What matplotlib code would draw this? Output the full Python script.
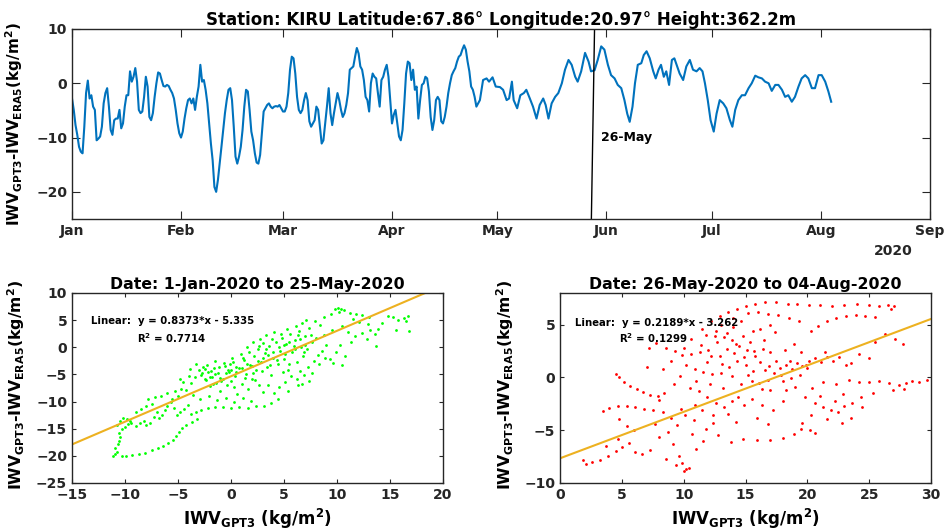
import numpy as np
import matplotlib
matplotlib.use('Agg')
import matplotlib.pyplot as plt

plt.rcParams['font.family'] = 'DejaVu Sans'
plt.rcParams['font.weight'] = 'bold'
plt.rcParams['axes.labelweight'] = 'bold'
plt.rcParams['axes.titleweight'] = 'bold'
plt.rcParams['mathtext.default'] = 'bf'

GRAY = '#262626'

# ---- time series: IWV_GPT3 - IWV_ERA5 (days since 1 Jan 2020) ----
day_a = np.arange(0, 115.5, 0.5)
diff_a = [-2.8, -4.9, -7.7, -9.5, -11.7, -12.6, -12.9, -8.0, -1.8, 0.5,
          -2.8, -2.2, -4.3, -4.9, -10.5, -10.2, -9.8, -8.0, -3.7, -1.8,
          -0.9, -4.3, -8.6, -9.5, -6.8, -6.5, -6.5, -4.9, -8.3, -7.4,
          -4.3, -2.2, -2.2, 2.2, 0.3, 1.2, 2.8, 0.3, -4.9, -5.5,
          -5.2, -2.5, 1.2, -0.6, -6.2, -6.8, -5.5, -2.5, 0.0, 2.0,
          1.8, 0.6, -0.5, -0.6, -0.3, -0.5, -1.2, -1.8, -2.8, -4.9,
          -7.4, -9.2, -10.0, -8.9, -6.5, -4.6, -3.1, -2.8, -3.7, -2.8,
          -4.9, -2.5, -0.6, 3.4, 0.3, 0.6, -1.2, -3.7, -7.4, -11.1,
          -14.2, -19.1, -20.0, -17.8, -14.8, -11.7, -8.6, -5.5, -3.1, -1.2,
          -0.9, -3.1, -8.0, -13.5, -14.8, -13.5, -11.7, -8.6, -4.3, -1.2,
          -1.5, -4.9, -8.9, -10.5, -12.9, -14.6, -14.8, -13.2, -9.2, -5.2,
          -4.6, -4.0, -3.7, -4.3, -4.6, -4.3, -4.2, -4.3, -4.0, -4.6,
          -5.2, -5.2, -4.3, -1.8, 2.5, 4.9, 4.6, 1.8, -2.5, -4.9,
          -5.5, -4.9, -3.1, -1.8, -3.1, -7.0, -8.0, -7.4, -6.8, -4.3,
          -4.9, -8.0, -11.1, -10.5, -7.4, -4.3, -0.9, -5.5, -7.7, -5.5,
          -3.7, -1.8, -3.1, -4.9, -6.2, -5.5, -4.0, -1.8, 2.5, 2.8,
          3.1, 4.9, 6.5, 5.5, 3.1, 2.5, 0.6, -2.5, -3.1, -5.2,
          0.0, 1.8, 1.2, 0.9, -1.8, -4.3, 0.6, 1.2, 2.5, 3.4,
          1.2, -3.1, -7.4, -5.8, -4.9, -7.4, -9.8, -10.5, -8.6, -3.7,
          1.8, 4.0, 3.7, 0.6, 2.5, -1.2, -0.6, -6.5, -3.1, -0.3,
          0.0, 1.2, 0.9, -1.5, -6.2, -8.6, -6.8, -3.1, -2.5, -3.1,
          -7.0, -7.4, -6.2, -4.3, -1.8, 0.0, 1.5, 2.2, 2.8, 4.0,
          4.9, 5.2, 6.2, 7.0, 6.2, 4.0, 2.2, -0.6, -1.2, -2.5,
          -4.3]
day_b = [116, 116.9, 117.9, 118.6, 119.6, 120.5, 121.7, 122.6, 123.6, 124.3,
         125.1, 125.6, 126.6, 127.5, 128.5, 129.2, 130.2, 131.1, 132.1, 133,
         134, 134.7, 135.5, 136.4, 137.4, 138.3, 139.3, 140.2, 141.2, 142.1,
         143.1, 143.8, 144.8, 145.9, 146.9, 147.6, 148.6, 149.5, 150.5, 151.4,
         152.4, 153.3, 154.3, 155.2, 156.2, 157.1, 157.9, 158.6, 159.4, 160.1,
         160.9, 161.9, 162.6, 163.4, 164.3, 165.3, 166, 166.8, 167.5, 168.3,
         169, 169.8, 170.6, 171.3, 172.1, 172.8, 173.8, 174.7, 175.7, 176.6,
         177.6, 178.5, 179.3, 180, 180.8, 181.6, 182.5, 183.3, 184.2, 185.2,
         186.1, 187.1, 187.8, 188.6, 189.5, 190.5, 191.4, 192.4, 193.3, 194.3,
         195.2, 196.2, 197.1, 198.1, 199, 200, 200.9, 201.9, 202.8, 203.7,
         204.7, 205.6, 206.6, 207.5, 208.5, 209.4, 210.4, 211.3, 212.3, 213.2,
         214.2, 215.1, 215.9]
diff_b = [-3.1, 0.6, 0.9, 0.3, 1.1, -0.6, -0.7, -1.2, -3.1, -2.8,
          0.3, -3.1, -4.6, -2.2, -1.8, -1.2, -2.8, -4.3, -6.5, -4.0,
          -2.8, -4.0, -6.5, -3.7, -2.5, -1.8, 0.0, 2.5, 4.3, 3.4,
          1.2, 0.3, 2.2, 5.6, 4.0, 2.2, 2.4, 4.3, 6.8, 6.2,
          3.4, 1.5, 0.9, -0.3, -0.9, -3.1, -5.6, -7.1, -4.3, 0.0,
          3.4, 3.7, 5.2, 5.9, 4.6, 2.2, 0.9, 2.5, 3.4, 1.2,
          2.2, -0.3, 4.3, 4.6, 3.1, 1.8, 0.6, 3.1, 4.3, 2.5,
          2.2, 2.8, 2.2, 0.0, -3.1, -6.8, -8.9, -5.6, -3.1, -3.7,
          -4.6, -6.8, -8.0, -4.9, -3.1, -2.2, -2.2, -0.9, 0.0, 1.4,
          1.1, 0.9, 0.3, 0.0, -1.4, -0.3, -0.3, -1.2, -2.5, -2.2,
          -3.4, -2.5, -0.6, 0.9, 1.5, 0.9, -0.9, -0.9, 1.5, 1.5,
          0.3, -1.5, -3.4]

month_pos = [0, 31, 60, 91, 121, 152, 182, 213, 244]
month_lbl = ['Jan', 'Feb', 'Mar', 'Apr', 'May', 'Jun', 'Jul', 'Aug', 'Sep']
split_day = [147.7, 148.6]

# ---- scatter 1: 1-Jan to 25-May (IWV_GPT3, difference) ----
pts1 = [(-11.1, -20.1), (-10.9, -19.7), (-10.8, -19.2), (-10.9, -18.6), (-10.7, -17.9),
        (-10.6, -17.2), (-10.5, -16.5), (-10.6, -15.8), (-10.3, -15.1), (-10.0, -14.6),
        (-9.7, -14.1), (-9.5, -13.5), (-10.3, -20.0), (-9.9, -20.1), (-9.3, -19.8),
        (-8.7, -19.6), (-8.1, -19.4), (-7.5, -19.0), (-6.9, -18.6), (-6.4, -18.1),
        (-5.9, -17.6), (-5.5, -17.0), (-5.2, -16.3), (-4.9, -15.6), (-4.6, -14.9),
        (-4.2, -14.3), (-3.7, -13.8), (-3.2, -13.2),
        (-10.8, -14.3), (-10.5, -13.6), (-10.2, -13.0), (-9.8, -13.3), (-9.4, -14.0),
        (-9.0, -14.5), (-8.6, -13.9), (-8.2, -13.5), (-8.0, -14.4), (-7.6, -13.9),
        (-7.3, -12.8), (-7.0, -12.0), (-6.8, -13.1), (-6.5, -12.4), (-6.2, -11.5),
        (-6.0, -10.8), (-5.7, -10.1), (-5.4, -11.2), (-5.1, -12.5), (-4.8, -12.0),
        (-4.4, -11.3), (-4.1, -10.6), (-5.6, -9.5), (-5.0, -9.0), (-7.8, -9.6),
        (-7.2, -9.2), (-6.6, -8.9), (-6.0, -8.4), (-5.3, -8.0), (-4.7, -7.6),
        (-9.0, -12.0), (-8.5, -11.4), (-8.0, -10.9), (-7.5, -10.4), (-3.8, -12.2),
        (-3.3, -12.0), (-2.8, -11.6), (-2.2, -11.2), (-1.5, -11.0), (-0.8, -11.0),
        (0.0, -11.1), (0.8, -11.0), (1.6, -11.1), (2.4, -10.9), (3.1, -10.8),
        (3.8, -10.2), (4.4, -9.6),
        (-3.0, -4.2), (-2.8, -5.1), (-2.6, -3.6), (-2.4, -6.0), (-2.2, -4.6),
        (-2.0, -7.2), (-1.8, -5.4), (-1.6, -3.9), (-1.4, -6.5), (-1.2, -4.8),
        (-1.0, -8.1), (-0.8, -5.9), (-0.6, -3.4), (-0.4, -7.0), (-0.2, -4.5),
        (0.0, -6.2), (0.2, -2.8), (0.4, -5.3), (0.6, -8.6), (0.8, -3.9),
        (1.0, -6.8), (1.2, -2.3), (1.4, -4.9), (1.6, -7.6), (1.8, -3.3),
        (2.0, -5.8), (2.2, -1.6), (2.4, -4.2), (2.6, -6.9), (2.8, -2.7),
        (3.0, -8.3), (-3.4, -5.5), (-3.8, -6.6), (-4.2, -7.8), (-3.6, -8.8),
        (-2.9, -9.6), (-2.1, -8.9), (-1.3, -9.8), (-0.5, -9.3), (0.3, -10.0),
        (1.1, -9.4), (1.9, -9.9), (-2.5, -4.0), (-1.9, -4.4), (-1.1, -3.7),
        (-0.3, -4.1), (0.5, -3.6), (-2.7, -4.8), (-2.3, -3.2), (-1.5, -2.6),
        (-0.7, -2.9), (0.1, -1.9),
        (3.2, -1.0), (3.4, -3.6), (3.6, 0.2), (3.8, -5.1), (4.0, -1.9),
        (4.2, 1.0), (4.4, -3.0), (4.6, -0.6), (4.8, 1.8), (5.0, -2.2),
        (5.2, 0.6), (5.4, -4.1), (5.6, 2.4), (5.8, -0.9), (6.0, 1.3),
        (6.2, -2.8), (6.4, 3.0), (6.6, 0.1), (6.8, -1.6), (7.0, 2.0),
        (7.2, -0.4), (7.4, 3.6), (7.6, 0.9), (7.8, -2.5), (8.0, 1.7),
        (0.9, -1.2), (1.5, 0.0), (2.1, 0.9), (2.7, 1.5), (3.3, 2.2),
        (1.7, -0.8), (2.5, -0.3), (3.0, 0.8), (4.1, 2.8), (5.3, 3.4),
        (6.1, 3.9), (4.9, -4.6), (5.7, -5.3), (6.5, -4.4), (7.3, -3.7),
        (5.1, -6.4), (6.3, -7.0), (4.5, -7.3), (3.5, -6.9), (2.3, -6.1),
        (8.2, -1.4), (8.6, -0.6), (9.0, 0.5), (9.3, -2.2), (8.8, 2.3),
        (9.5, 3.1), (8.4, 4.1), (7.9, 4.8), (7.1, 5.0), (6.7, 4.4),
        (-2.0, -5.5), (-1.5, -5.0), (-1.0, -5.6), (-0.5, -4.8), (0.0, -4.2),
        (0.5, -4.6), (1.0, -3.8), (1.5, -3.0), (2.0, -3.5), (2.5, -2.6),
        (3.0, -2.0), (3.5, -1.5), (4.0, -0.8), (4.5, 0.0), (5.0, 0.4),
        (5.5, 1.0), (6.0, -0.3), (6.5, 1.6), (7.0, 0.5), (7.5, 2.3),
        (-2.5, -5.8), (-1.7, -6.8), (-0.9, -6.3), (0.3, -7.4), (1.3, -5.6),
        (2.1, -4.7), (2.9, -4.4), (3.7, -3.2), (4.3, -2.4), (5.1, -1.2),
        (5.9, 0.2), (6.9, -0.9), (3.9, 1.5), (2.6, 0.2), (1.1, -1.9),
        (-0.1, -3.1), (4.7, 2.5), (5.5, -3.0), (6.3, 2.2), (3.3, -0.3),
        (9.8, 7.0), (10.1, 7.3), (10.4, 7.1), (10.7, 6.8), (10.2, 6.5),
        (9.4, 6.2), (8.8, 5.6), (11.2, 6.4), (11.8, 6.1), (12.4, 5.9),
        (13.0, 5.6), (11.5, 5.2), (12.1, 4.6), (10.5, 3.9), (11.0, 2.8),
        (11.7, 2.0), (12.4, 2.6), (13.1, 3.1), (13.6, 2.4), (13.9, 3.4),
        (12.8, 1.5), (13.7, 0.3), (11.3, 1.0), (10.3, 0.4), (9.9, -0.8),
        (10.8, -1.6), (9.6, -2.9), (10.5, -3.2), (14.8, 5.8), (15.3, 5.5),
        (15.8, 5.1), (16.3, 5.4), (16.7, 5.8), (16.5, 4.8), (15.6, 3.2),
        (16.8, 3.0), (14.2, 4.4), (12.9, 4.2),
        (6.2, -5.8), (6.9, -5.1), (7.6, -4.8), (8.3, -3.1), (8.9, -2.0),
        (4.1, -8.5), (5.4, -8.1), (6.7, -6.8), (7.4, -6.2),
        (-4.5, -6.4), (-4.0, -5.3), (-3.3, -3.1), (-3.9, -4.0), (-4.8, -5.8)]

# ---- scatter 2: 26-May to 04-Aug ----
pts2 = [(11.5, 4.6), (12.2, 5.3), (12.9, 5.8), (13.6, 6.2), (14.3, 6.5),
        (15.0, 6.8), (15.8, 7.0), (16.6, 7.1), (17.5, 7.1), (18.4, 7.0),
        (19.2, 7.0), (20.1, 6.9), (21.0, 6.9), (22.0, 6.8), (23.0, 6.9),
        (24.0, 7.0), (25.0, 6.9), (25.8, 6.8), (26.5, 6.9), (27.0, 6.8),
        (26.8, 6.5), (15.2, 6.1), (16.0, 6.2), (16.8, 6.0), (17.6, 5.9),
        (18.5, 5.6), (19.3, 5.3), (20.3, 4.4), (20.9, 4.9), (21.6, 5.3),
        (22.3, 5.6), (23.1, 5.8), (23.9, 5.9), (24.7, 5.8), (25.5, 5.7),
        (13.0, 5.0), (14.0, 4.8), (14.6, 5.3), (13.5, 4.2), (17.0, 5.0),
        (17.4, 4.3), (12.5, 3.9), (16.2, 4.6), (25.5, 3.4), (26.3, 4.1),
        (27.1, 3.6), (27.7, 3.2), (24.2, 2.2), (23.5, 1.4), (25.0, 1.8),
        (7.8, 3.3), (8.6, 2.8), (9.3, 2.5), (9.9, 2.1), (10.6, 2.2),
        (11.3, 2.4), (12.0, 2.6), (12.7, 3.4), (13.3, 3.8), (13.9, 3.5),
        (14.5, 3.0), (15.1, 2.6), (15.7, 2.5), (16.4, 2.7), (17.0, 2.4),
        (10.2, 1.2), (10.9, 0.8), (11.6, 0.5), (12.3, 0.3), (13.0, 0.4),
        (13.7, 1.0), (14.3, 1.6), (15.0, 1.2), (15.6, 0.6), (16.2, 1.5),
        (16.9, 1.1), (11.4, 3.1), (12.9, 2.0), (14.8, 3.9), (13.1, 1.3),
        (15.4, 3.4), (7.2, 2.8), (7.0, 1.0), (8.3, 0.8), (9.0, 1.6),
        (11.9, 1.5), (10.0, 2.8), (14.1, 2.3),
        (13.5, 2.7), (14.2, 3.2), (14.9, 1.9), (15.8, 2.0), (16.6, 0.7),
        (17.9, 0.2), (18.6, 1.6), (19.9, 1.2), (12.2, 2.0), (13.9, 0.1),
        (15.2, 0.2), (14.6, -0.6), (13.2, -1.0), (12.1, -0.6), (11.0, -0.3),
        (18.2, 2.6), (19.5, 2.4), (21.4, 2.4), (12.6, 4.4), (14.0, 5.6),
        (15.6, 4.4), (16.5, 3.5), (18.9, 3.2), (11.8, 4.0), (10.6, 3.6),
        (17.3, 0.4), (17.8, 0.9), (18.3, 1.2), (18.8, 0.8), (19.2, 1.4),
        (19.6, 1.1), (20.1, 1.6), (20.6, 1.8), (21.1, 1.5), (21.6, 1.9),
        (22.1, 1.6), (22.6, 1.9), (23.1, 1.2), (18.0, -0.3), (18.7, -0.1),
        (19.4, 0.2), (20.0, 0.9), (17.5, 1.6), (19.0, -0.9), (16.8, -0.2),
        (16.1, -0.5), (15.5, -0.3), (21.3, -0.4), (22.3, -0.6), (23.4, -0.2),
        (20.4, -1.0), (18.3, -1.2), (17.0, -1.2), (16.3, -1.1),
        (24.2, -0.4), (25.0, -0.4), (25.8, -0.3), (26.6, -0.5), (27.4, -0.7),
        (28.0, -0.5), (28.5, -0.3), (29.0, -0.4), (29.7, -0.2), (26.9, -1.2),
        (25.3, -1.5), (24.3, -1.9), (23.6, -2.4), (27.8, -1.1),
        (19.8, -1.9), (20.6, -2.4), (21.3, -2.8), (21.9, -3.1), (22.5, -3.3),
        (23.0, -2.7), (22.2, -2.2), (21.0, -1.8), (20.3, -3.6), (19.6, -4.3),
        (20.2, -5.0), (20.6, -5.3), (22.8, -4.3), (23.5, -3.8), (24.4, -2.8),
        (21.6, -3.9), (22.9, -1.6),
        (10.5, -1.0), (11.2, -1.3), (11.9, -1.9), (12.6, -2.4), (13.3, -2.8),
        (13.9, -2.2), (14.4, -1.9), (14.9, -2.6), (13.6, -3.5), (12.4, -3.6),
        (11.5, -3.1), (10.8, -4.0), (10.1, -3.6), (9.5, -4.5), (9.0, -3.8),
        (15.5, -2.0), (16.3, -2.6), (17.2, -3.1), (18.0, -2.2), (15.9, -3.8),
        (16.8, -4.4), (14.2, -4.2), (11.8, -4.9), (12.8, -5.5), (13.8, -6.1),
        (14.8, -5.8), (15.9, -5.9), (17.0, -5.9), (18.0, -5.7), (18.9, -5.4),
        (19.5, -4.9),
        (4.5, 0.3), (4.8, 0.0), (5.2, -0.4), (5.7, -0.8), (6.2, -1.1),
        (6.7, -1.4), (7.3, -1.7), (7.9, -1.8), (8.4, -1.5), (8.0, -2.1),
        (9.2, -0.6), (9.7, 0.1),
        (3.5, -3.2), (4.0, -2.9), (4.7, -2.7), (5.4, -2.7), (6.1, -2.8),
        (6.8, -3.0), (7.5, -3.1), (8.3, -3.3), (4.8, -3.9), (5.4, -4.6),
        (6.0, -5.0),
        (1.9, -7.8), (2.1, -8.2), (2.6, -8.0), (3.2, -7.8), (3.9, -7.4),
        (4.5, -7.0), (5.0, -6.6), (5.6, -6.2), (6.1, -7.1), (6.6, -7.3),
        (7.3, -6.9), (4.7, -5.8), (3.7, -6.5), (8.0, -5.6), (8.7, -5.2),
        (9.1, -6.3), (9.6, -7.4), (9.9, -8.1), (10.2, -8.7), (10.0, -8.9),
        (10.4, -8.6), (9.4, -8.3), (8.6, -7.7), (11.0, -6.8), (11.6, -6.0),
        (10.7, -5.4), (12.4, -4.3), (7.7, -4.4), (9.8, -3.0), (10.9, -2.6)]

# linear fits (slope, intercept) as drawn
fit1 = (0.8373, -5.335)
fit2 = (0.44, -7.66)


def style(ax, fs=10, tlen=3):
    for s in ax.spines.values():
        s.set_color(GRAY)
        s.set_linewidth(1.0)
    ax.tick_params(direction='in', top=True, right=True, length=tlen,
                   width=0.8, colors=GRAY, labelsize=fs)
    for lab in ax.get_xticklabels() + ax.get_yticklabels():
        lab.set_fontweight('bold')


fig = plt.figure(figsize=(9.47, 5.31), dpi=100)

# top panel
ax0 = fig.add_axes([72/947, 1 - 219/531, 858/947, 190/531])
days = np.concatenate([day_a, day_b])
diffs = np.concatenate([diff_a, diff_b])
ax0.plot(days, diffs, color='#0072BD', lw=1.5)
ax0.plot(split_day, [-25, 10], color='k', lw=1.0)
ax0.text(150.3, -10, '26-May', fontsize=9, fontweight='bold', va='center')
ax0.set_xlim(0, 244)
ax0.set_ylim(-25, 10)
ax0.set_xticks(month_pos)
ax0.set_xticklabels(month_lbl)
ax0.set_yticks([-20, -10, 0, 10])
style(ax0, fs=10, tlen=6)
ax0.set_title('Station: KIRU Latitude:67.86° Longitude:20.97° Height:362.2m',
              fontsize=12, fontweight='bold', pad=3)
ax0.set_ylabel('IWV$_{GPT3}$-IWV$_{ERA5}$(kg/m$^{2}$)', fontsize=11)
ax0.yaxis.set_label_coords(-0.055, 0.5)
fig.text(893/947, 1 - 251/531, '2020', ha='center', va='center',
         fontsize=10, fontweight='bold', color=GRAY)

# bottom left scatter
ax1 = fig.add_axes([72/947, 1 - 483/531, 371/947, 190/531])
p1 = np.array(pts1)
ax1.scatter(p1[:, 0], p1[:, 1], s=4, color='#00FF00', linewidths=0)
xl1 = np.array([-15, 20])
ax1.plot(xl1, fit1[0]*xl1 + fit1[1], color='#EDB120', lw=1.5)
ax1.set_xlim(-15, 20)
ax1.set_ylim(-25, 10)
ax1.set_xticks(np.arange(-15, 21, 5))
ax1.set_yticks(np.arange(-25, 11, 5))
style(ax1, fs=10)
ax1.set_title('Date: 1-Jan-2020 to 25-May-2020', fontsize=11.3, fontweight='bold', pad=3)
ax1.text(-13.2, 4.75, 'Linear:  y = 0.8373*x - 5.335', fontsize=7.3, fontweight='bold', va='center')
ax1.text(-8.9, 1.7, 'R$^{2}$ = 0.7714', fontsize=7.3, fontweight='bold', va='center')
ax1.set_ylabel('IWV$_{GPT3}$-IWV$_{ERA5}$(kg/m$^{2}$)', fontsize=11.3)
ax1.yaxis.set_label_coords(-0.121, 0.516)
ax1.set_xlabel('IWV$_{GPT3}$ (kg/m$^{2}$)', fontsize=12)
ax1.xaxis.set_label_coords(0.5, -0.128)

# bottom right scatter
ax2 = fig.add_axes([560/947, 1 - 483/531, 371/947, 190/531])
p2 = np.array(pts2)
ax2.scatter(p2[:, 0], p2[:, 1], s=4, color='#FF0000', linewidths=0)
xl2 = np.array([0, 30])
ax2.plot(xl2, fit2[0]*xl2 + fit2[1], color='#EDB120', lw=1.5)
ax2.set_xlim(0, 30)
ax2.set_ylim(-10, 8)
ax2.set_xticks(np.arange(0, 31, 5))
ax2.set_yticks([-10, -5, 0, 5])
style(ax2, fs=10)
ax2.set_title('Date: 26-May-2020 to 04-Aug-2020', fontsize=11.3, fontweight='bold', pad=3)
ax2.text(1.2, 5.2, 'Linear:  y = 0.2189*x - 3.262', fontsize=7.3, fontweight='bold', va='center')
ax2.text(4.8, 3.7, 'R$^{2}$ = 0.1299', fontsize=7.3, fontweight='bold', va='center')
ax2.set_ylabel('IWV$_{GPT3}$-IWV$_{ERA5}$(kg/m$^{2}$)', fontsize=11.3)
ax2.yaxis.set_label_coords(-0.119, 0.516)
ax2.set_xlabel('IWV$_{GPT3}$ (kg/m$^{2}$)', fontsize=12)
ax2.xaxis.set_label_coords(0.5, -0.128)

fig.savefig('out.png', dpi=100)
